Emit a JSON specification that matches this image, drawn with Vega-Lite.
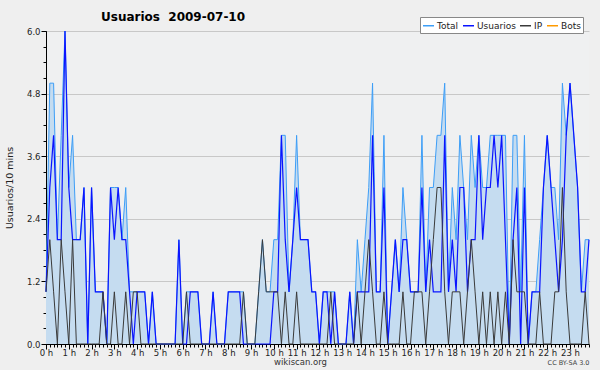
{
"$schema": "https://vega.github.io/schema/vega-lite/v6.json",
"width": 543, "height": 313,
"autosize": "none",
"padding": {"left": 46, "top": 31, "right": 11, "bottom": 26},
"background": "#efefef",
"config": {"view": {"stroke": null, "fill": "#eff0f1"}, "font": "DejaVu Sans"},
"title": {"text": "Usuarios\u00a0 2009-07-10", "anchor": "start", "frame": "group", "dx": 55, "fontSize": 12, "fontWeight": "bold", "color": "#000", "offset": -7},
"data": {"values": [
{"min":0,"Total":1,"Usuarios":1,"IP":1,"Bots":0},
{"min":10,"Total":5,"Usuarios":3,"IP":2,"Bots":0},
{"min":20,"Total":5,"Usuarios":4,"IP":1,"Bots":0},
{"min":30,"Total":2,"Usuarios":2,"IP":0,"Bots":0},
{"min":40,"Total":4,"Usuarios":2,"IP":2,"Bots":0},
{"min":50,"Total":6,"Usuarios":6,"IP":1,"Bots":0},
{"min":60,"Total":3,"Usuarios":3,"IP":0,"Bots":0},
{"min":70,"Total":4,"Usuarios":2,"IP":2,"Bots":0},
{"min":80,"Total":2,"Usuarios":2,"IP":0,"Bots":0},
{"min":90,"Total":2,"Usuarios":2,"IP":0,"Bots":0},
{"min":100,"Total":3,"Usuarios":3,"IP":0,"Bots":0},
{"min":110,"Total":0,"Usuarios":0,"IP":0,"Bots":0},
{"min":120,"Total":3,"Usuarios":3,"IP":0,"Bots":0},
{"min":130,"Total":1,"Usuarios":1,"IP":0,"Bots":0},
{"min":140,"Total":1,"Usuarios":1,"IP":0,"Bots":0},
{"min":150,"Total":1,"Usuarios":1,"IP":1,"Bots":0},
{"min":160,"Total":0,"Usuarios":0,"IP":0,"Bots":0},
{"min":170,"Total":3,"Usuarios":3,"IP":0,"Bots":0},
{"min":180,"Total":3,"Usuarios":2,"IP":1,"Bots":0},
{"min":190,"Total":3,"Usuarios":3,"IP":0,"Bots":0},
{"min":200,"Total":2,"Usuarios":2,"IP":0,"Bots":0},
{"min":210,"Total":3,"Usuarios":2,"IP":1,"Bots":0},
{"min":220,"Total":1,"Usuarios":1,"IP":0,"Bots":0},
{"min":230,"Total":1,"Usuarios":0,"IP":1,"Bots":0},
{"min":240,"Total":1,"Usuarios":1,"IP":1,"Bots":0},
{"min":250,"Total":1,"Usuarios":1,"IP":0,"Bots":0},
{"min":260,"Total":1,"Usuarios":1,"IP":0,"Bots":0},
{"min":270,"Total":0,"Usuarios":0,"IP":0,"Bots":0},
{"min":280,"Total":1,"Usuarios":1,"IP":0,"Bots":0},
{"min":290,"Total":0,"Usuarios":0,"IP":0,"Bots":0},
{"min":300,"Total":0,"Usuarios":0,"IP":0,"Bots":0},
{"min":310,"Total":0,"Usuarios":0,"IP":0,"Bots":0},
{"min":320,"Total":0,"Usuarios":0,"IP":0,"Bots":0},
{"min":330,"Total":0,"Usuarios":0,"IP":0,"Bots":0},
{"min":340,"Total":0,"Usuarios":0,"IP":0,"Bots":0},
{"min":350,"Total":2,"Usuarios":2,"IP":0,"Bots":0},
{"min":360,"Total":0,"Usuarios":0,"IP":0,"Bots":0},
{"min":370,"Total":1,"Usuarios":0,"IP":1,"Bots":0},
{"min":380,"Total":1,"Usuarios":1,"IP":0,"Bots":0},
{"min":390,"Total":1,"Usuarios":1,"IP":0,"Bots":0},
{"min":400,"Total":1,"Usuarios":1,"IP":0,"Bots":0},
{"min":410,"Total":0,"Usuarios":0,"IP":0,"Bots":0},
{"min":420,"Total":0,"Usuarios":0,"IP":0,"Bots":0},
{"min":430,"Total":0,"Usuarios":0,"IP":0,"Bots":0},
{"min":440,"Total":1,"Usuarios":1,"IP":0,"Bots":0},
{"min":450,"Total":0,"Usuarios":0,"IP":0,"Bots":0},
{"min":460,"Total":0,"Usuarios":0,"IP":0,"Bots":0},
{"min":470,"Total":0,"Usuarios":0,"IP":0,"Bots":0},
{"min":480,"Total":1,"Usuarios":1,"IP":0,"Bots":0},
{"min":490,"Total":1,"Usuarios":1,"IP":0,"Bots":0},
{"min":500,"Total":1,"Usuarios":1,"IP":0,"Bots":0},
{"min":510,"Total":1,"Usuarios":1,"IP":0,"Bots":0},
{"min":520,"Total":1,"Usuarios":0,"IP":1,"Bots":0},
{"min":530,"Total":0,"Usuarios":0,"IP":0,"Bots":0},
{"min":540,"Total":0,"Usuarios":0,"IP":0,"Bots":0},
{"min":550,"Total":0,"Usuarios":0,"IP":0,"Bots":0},
{"min":560,"Total":1,"Usuarios":0,"IP":1,"Bots":0},
{"min":570,"Total":2,"Usuarios":0,"IP":2,"Bots":0},
{"min":580,"Total":1,"Usuarios":0,"IP":1,"Bots":0},
{"min":590,"Total":1,"Usuarios":0,"IP":1,"Bots":0},
{"min":600,"Total":2,"Usuarios":1,"IP":1,"Bots":0},
{"min":610,"Total":2,"Usuarios":1,"IP":1,"Bots":0},
{"min":620,"Total":4,"Usuarios":4,"IP":0,"Bots":0},
{"min":630,"Total":4,"Usuarios":2,"IP":1,"Bots":0},
{"min":640,"Total":1,"Usuarios":1,"IP":0,"Bots":0},
{"min":650,"Total":2,"Usuarios":2,"IP":0,"Bots":0},
{"min":660,"Total":4,"Usuarios":3,"IP":1,"Bots":0},
{"min":670,"Total":2,"Usuarios":2,"IP":0,"Bots":0},
{"min":680,"Total":2,"Usuarios":2,"IP":0,"Bots":0},
{"min":690,"Total":2,"Usuarios":2,"IP":0,"Bots":0},
{"min":700,"Total":1,"Usuarios":1,"IP":0,"Bots":0},
{"min":710,"Total":1,"Usuarios":1,"IP":0,"Bots":0},
{"min":720,"Total":0,"Usuarios":0,"IP":0,"Bots":0},
{"min":730,"Total":1,"Usuarios":1,"IP":0,"Bots":0},
{"min":740,"Total":1,"Usuarios":1,"IP":0,"Bots":0},
{"min":750,"Total":1,"Usuarios":0,"IP":1,"Bots":0},
{"min":760,"Total":1,"Usuarios":1,"IP":0,"Bots":0},
{"min":770,"Total":0,"Usuarios":0,"IP":0,"Bots":0},
{"min":780,"Total":0,"Usuarios":0,"IP":0,"Bots":0},
{"min":790,"Total":0,"Usuarios":0,"IP":0,"Bots":0},
{"min":800,"Total":1,"Usuarios":1,"IP":0,"Bots":0},
{"min":810,"Total":0,"Usuarios":0,"IP":0,"Bots":0},
{"min":820,"Total":2,"Usuarios":1,"IP":1,"Bots":0},
{"min":830,"Total":1,"Usuarios":1,"IP":0,"Bots":0},
{"min":840,"Total":2,"Usuarios":1,"IP":1,"Bots":0},
{"min":850,"Total":3,"Usuarios":1,"IP":2,"Bots":0},
{"min":860,"Total":5,"Usuarios":4,"IP":1,"Bots":0},
{"min":870,"Total":1,"Usuarios":1,"IP":0,"Bots":0},
{"min":880,"Total":1,"Usuarios":1,"IP":0,"Bots":0},
{"min":890,"Total":4,"Usuarios":3,"IP":1,"Bots":0},
{"min":900,"Total":0,"Usuarios":0,"IP":0,"Bots":0},
{"min":910,"Total":1,"Usuarios":1,"IP":0,"Bots":0},
{"min":920,"Total":2,"Usuarios":2,"IP":0,"Bots":0},
{"min":930,"Total":1,"Usuarios":1,"IP":0,"Bots":0},
{"min":940,"Total":3,"Usuarios":2,"IP":1,"Bots":0},
{"min":950,"Total":2,"Usuarios":2,"IP":0,"Bots":0},
{"min":960,"Total":1,"Usuarios":1,"IP":0,"Bots":0},
{"min":970,"Total":1,"Usuarios":1,"IP":1,"Bots":0},
{"min":980,"Total":1,"Usuarios":1,"IP":1,"Bots":0},
{"min":990,"Total":4,"Usuarios":3,"IP":1,"Bots":0},
{"min":1000,"Total":1,"Usuarios":1,"IP":0,"Bots":0},
{"min":1010,"Total":3,"Usuarios":2,"IP":1,"Bots":0},
{"min":1020,"Total":3,"Usuarios":1,"IP":2,"Bots":0},
{"min":1030,"Total":4,"Usuarios":1,"IP":3,"Bots":0},
{"min":1040,"Total":4,"Usuarios":1,"IP":3,"Bots":0},
{"min":1050,"Total":5,"Usuarios":4,"IP":1,"Bots":0},
{"min":1060,"Total":1,"Usuarios":1,"IP":0,"Bots":0},
{"min":1070,"Total":3,"Usuarios":2,"IP":1,"Bots":0},
{"min":1080,"Total":2,"Usuarios":1,"IP":1,"Bots":0},
{"min":1090,"Total":4,"Usuarios":3,"IP":1,"Bots":0},
{"min":1100,"Total":3,"Usuarios":3,"IP":0,"Bots":0},
{"min":1110,"Total":2,"Usuarios":1,"IP":1,"Bots":0},
{"min":1120,"Total":4,"Usuarios":2,"IP":2,"Bots":0},
{"min":1130,"Total":3,"Usuarios":2,"IP":1,"Bots":0},
{"min":1140,"Total":4,"Usuarios":4,"IP":0,"Bots":0},
{"min":1150,"Total":3,"Usuarios":2,"IP":1,"Bots":0},
{"min":1160,"Total":3,"Usuarios":3,"IP":0,"Bots":0},
{"min":1170,"Total":4,"Usuarios":3,"IP":1,"Bots":0},
{"min":1180,"Total":4,"Usuarios":4,"IP":0,"Bots":0},
{"min":1190,"Total":4,"Usuarios":3,"IP":1,"Bots":0},
{"min":1200,"Total":4,"Usuarios":4,"IP":0,"Bots":0},
{"min":1210,"Total":4,"Usuarios":2,"IP":1,"Bots":0},
{"min":1220,"Total":0,"Usuarios":0,"IP":0,"Bots":0},
{"min":1230,"Total":4,"Usuarios":2,"IP":2,"Bots":0},
{"min":1240,"Total":4,"Usuarios":3,"IP":1,"Bots":0},
{"min":1250,"Total":1,"Usuarios":0,"IP":1,"Bots":0},
{"min":1260,"Total":4,"Usuarios":3,"IP":1,"Bots":0},
{"min":1270,"Total":0,"Usuarios":0,"IP":0,"Bots":0},
{"min":1280,"Total":1,"Usuarios":1,"IP":0,"Bots":0},
{"min":1290,"Total":1,"Usuarios":1,"IP":0,"Bots":0},
{"min":1300,"Total":2,"Usuarios":1,"IP":1,"Bots":0},
{"min":1310,"Total":3,"Usuarios":3,"IP":0,"Bots":0},
{"min":1320,"Total":4,"Usuarios":4,"IP":0,"Bots":0},
{"min":1330,"Total":3,"Usuarios":3,"IP":0,"Bots":0},
{"min":1340,"Total":3,"Usuarios":2,"IP":1,"Bots":0},
{"min":1350,"Total":2,"Usuarios":1,"IP":1,"Bots":0},
{"min":1360,"Total":5,"Usuarios":2,"IP":3,"Bots":0},
{"min":1370,"Total":4,"Usuarios":4,"IP":1,"Bots":0},
{"min":1380,"Total":5,"Usuarios":5,"IP":0,"Bots":0},
{"min":1390,"Total":4,"Usuarios":4,"IP":0,"Bots":0},
{"min":1400,"Total":3,"Usuarios":3,"IP":0,"Bots":0},
{"min":1410,"Total":1,"Usuarios":1,"IP":0,"Bots":0},
{"min":1420,"Total":2,"Usuarios":1,"IP":1,"Bots":0},
{"min":1430,"Total":2,"Usuarios":2,"IP":0,"Bots":0}
]},
"layer": [
{
"mark": {"type": "area", "color": "#c5dcf0", "opacity": 1},
"encoding": {
"x": {"field": "min", "type": "quantitative", "scale": {"domain": [0, 1430], "nice": false, "zero": false},
"axis": {"orient": "bottom", "values": [0,60,120,180,240,300,360,420,480,540,600,660,720,780,840,900,960,1020,1080,1140,1200,1260,1320,1380], "labelExpr": "floor(datum.value/60) + ' h'", "tickSize": 5, "tickColor": "#000", "domainColor": "#000", "labelFontSize": 8.5, "labelColor": "#222", "labelPadding": -1, "labelFlush": false, "labelOverlap": false, "grid": false,
"title": "wikiscan.org", "titleFontSize": 8.5, "titleFontWeight": "normal", "titleColor": "#333", "titleX": 254, "titleY": 20, "titleAlign": "center", "titleBaseline": "alphabetic"}},
"y": {"field": "Total", "type": "quantitative", "scale": {"domain": [0, 6], "nice": false},
"axis": {"orient": "left", "values": [0, 1.2, 2.4, 3.6, 4.8, 6], "format": ".1f", "grid": true, "gridColor": "#c8c8c8", "tickSize": 5, "tickColor": "#000", "domainColor": "#000", "labelFontSize": 8.5, "labelColor": "#222", "labelPadding": 1,
"title": "Usuarios/10 mins", "titleFontSize": 9.5, "titleFontWeight": "normal", "titleColor": "#222", "titlePadding": 12}}
}
},
{
"mark": {"type": "line", "strokeWidth": 1},
"encoding": {
"x": {"field": "min", "type": "quantitative",
"axis": {"orient": "bottom", "tickCount": 143, "labels": false, "domain": false, "grid": false, "tickSize": 3, "tickColor": "#000",
"title": "CC BY-SA 3.0", "titleFontSize": 6.5, "titleFontWeight": "normal", "titleColor": "#444", "titleX": 543, "titleY": 20, "titleAlign": "right", "titleBaseline": "alphabetic"}},
"y": {"field": "Total", "type": "quantitative",
"axis": {"orient": "left", "values": [0,0.3,0.6,0.9,1.2,1.5,1.8,2.1,2.4,2.7,3,3.3,3.6,3.9,4.2,4.5,4.8,5.1,5.4,5.7,6], "labels": false, "domain": false, "grid": false, "tickSize": 3, "tickColor": "#000", "title": null}},
"color": {"datum": "Total", "type": "nominal",
"scale": {"domain": ["Total", "Usuarios", "IP", "Bots"], "range": ["#3d9ef7", "#0a14ff", "#3a3a3a", "#ff9a00"]},
"legend": {"orient": "none", "legendX": 374, "legendY": -14, "direction": "horizontal", "columns": 4, "title": null, "symbolType": "stroke", "symbolSize": 121, "symbolStrokeWidth": 1.5, "labelFontSize": 9, "labelColor": "#222", "fillColor": "#ffffff", "strokeColor": "#888888", "padding": 2, "columnPadding": 1, "labelOffset": 2}}
}
},
{
"mark": {"type": "line", "strokeWidth": 1.2},
"encoding": {
"x": {"field": "min", "type": "quantitative", "axis": null},
"y": {"field": "Usuarios", "type": "quantitative", "axis": null},
"color": {"datum": "Usuarios", "type": "nominal"}
}
},
{
"mark": {"type": "line", "strokeWidth": 1},
"encoding": {
"x": {"field": "min", "type": "quantitative", "axis": null},
"y": {"field": "IP", "type": "quantitative", "axis": null},
"color": {"datum": "IP", "type": "nominal"}
}
}
],
"resolve": {"axis": {"x": "independent", "y": "independent"}}
}
